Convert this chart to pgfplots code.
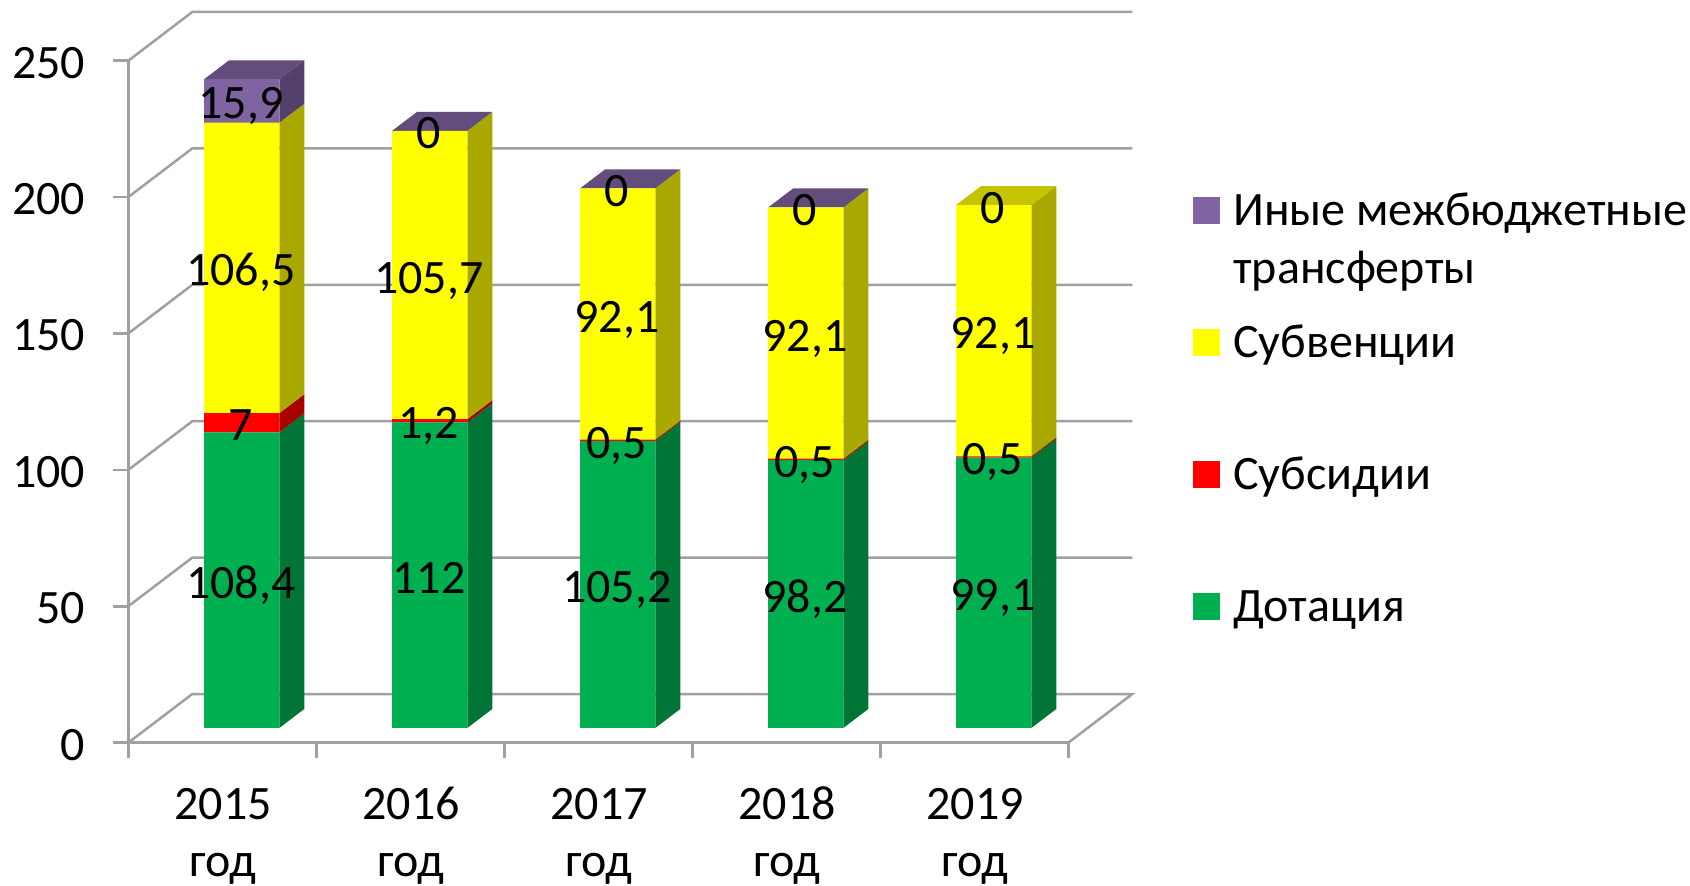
\documentclass[border=0pt]{standalone}
\usepackage{fontspec}
\setmainfont{Carlito}
\usepackage{pgfplots}
\usepackage{pgfplotstable}
\pgfplotsset{compat=1.18}
\definecolor{gridc}{HTML}{A0A0A0}
\definecolor{gf}{HTML}{00B050}\definecolor{gs}{HTML}{007535}
\definecolor{rf}{HTML}{FF0000}\definecolor{rs}{HTML}{A80000}
\definecolor{yf}{HTML}{FFFF00}\definecolor{ys}{HTML}{A8A800}\definecolor{yt}{HTML}{C4C400}
\definecolor{pf}{HTML}{8064A2}\definecolor{ps}{HTML}{54416B}\definecolor{pt}{HTML}{624D7C}
\newcommand{\lf}{\fontsize{48}{60}\selectfont}
\newcommand{\yr}[1]{\rule{0pt}{36pt}#1\\[-3pt]\rule{0pt}{36pt}год}
\pgfplotstableread{
x dot sub subv other
0 108.4 7   106.5 15.9
1 112   1.2 105.7 0
2 105.2 0.5 92.1  0
3 98.2  0.5 92.1  0
4 99.1  0.5 92.1  0
}\stacktable
\pgfplotstableread{
x y label
0 54.2 108,4
0 111.9 7
0 168.65 106,5
0 229.85 15,9
1 56 112
1 112.6 1,2
1 166.05 105,7
1 218.9 0
2 52.6 105,2
2 105.45 0,5
2 151.75 92,1
2 197.8 0
3 49.1 98,2
3 98.45 0,5
3 144.75 92,1
3 190.8 0
4 49.55 99,1
4 99.35 0,5
4 145.65 92,1
4 191.7 0
}\labeltable
\pgfplotsset{
  common/.style={scale only axis,width=940pt,height=682pt,at={(128.3pt,143.3pt)},anchor=south west,clip=false},
  bars/.style={common,hide axis,xmin=-0.603,xmax=4.397,ymin=-5.39,ymax=244.61},
}
\newcommand{\face}[2]{\addplot[fill=#1,draw=none,forget plot] coordinates {#2} -- cycle;}
\newcommand{\gl}[1]{\addplot[gridc,line width=2.5pt,forget plot] coordinates {#1};}
\begin{document}
\begin{tikzpicture}
\path[use as bounding box] (0,0) rectangle (1690pt,886pt);
% walls
\begin{axis}[common,xmin=0,xmax=5,ymin=0,ymax=250,
  axis x line=bottom,axis y line=left,
  axis line style={gridc,line width=2.5pt,-},
  every tick/.style={gridc,line width=2.5pt},
  tick align=outside,major tick length=15pt,minor tick length=15pt,
  ytick={0,50,100,150,200,250},
  xtick={0.5,1.5,2.5,3.5,4.5},
  xticklabels={{\yr{2015}},{\yr{2016}},{\yr{2017}},{\yr{2018}},{\yr{2019}}},
  minor xtick={0,1,2,3,4,5},
  major x tick style={draw=none},
  xticklabel style={align=center,font=\lf,inner sep=0pt,yshift=-26pt,xshift=1pt,text=black},
  yticklabel style={font=\lf,inner sep=0pt,xshift=-28pt,yshift=-2pt,text=black},
  /pgf/number format/assume math mode=true,
]
\gl{(0,0)(0.3404,17.85)(5.3404,17.85)(5,0)}
\gl{(0,50)(0.3404,67.85)(5.3404,67.85)}
\gl{(0,100)(0.3404,117.85)(5.3404,117.85)}
\gl{(0,150)(0.3404,167.85)(5.3404,167.85)}
\gl{(0,200)(0.3404,217.85)(5.3404,217.85)}
\gl{(0,250)(0.3404,267.85)(5.3404,267.85)}
\end{axis}
% side and top faces
\begin{axis}[bars]
\face{gs}{(0.2,0)(0.333,6.96)(0.333,115.36)(0.2,108.4)}
\face{rs}{(0.2,108.4)(0.333,115.36)(0.333,122.36)(0.2,115.4)}
\face{ys}{(0.2,115.4)(0.333,122.36)(0.333,228.86)(0.2,221.9)}
\face{ps}{(0.2,221.9)(0.333,228.86)(0.333,244.76)(0.2,237.8)}
\face{pt}{(-0.2,237.8)(-0.067,244.76)(0.333,244.76)(0.2,237.8)}
\face{gs}{(1.2,0)(1.333,6.96)(1.333,118.96)(1.2,112)}
\face{rs}{(1.2,112)(1.333,118.96)(1.333,120.16)(1.2,113.2)}
\face{ys}{(1.2,113.2)(1.333,120.16)(1.333,225.86)(1.2,218.9)}
\face{pt}{(0.8,218.9)(0.933,225.86)(1.333,225.86)(1.2,218.9)}
\face{gs}{(2.2,0)(2.333,6.96)(2.333,112.16)(2.2,105.2)}
\face{rs}{(2.2,105.2)(2.333,112.16)(2.333,112.66)(2.2,105.7)}
\face{ys}{(2.2,105.7)(2.333,112.66)(2.333,204.76)(2.2,197.8)}
\face{pt}{(1.8,197.8)(1.933,204.76)(2.333,204.76)(2.2,197.8)}
\face{gs}{(3.2,0)(3.333,6.96)(3.333,105.16)(3.2,98.2)}
\face{rs}{(3.2,98.2)(3.333,105.16)(3.333,105.66)(3.2,98.7)}
\face{ys}{(3.2,98.7)(3.333,105.66)(3.333,197.76)(3.2,190.8)}
\face{pt}{(2.8,190.8)(2.933,197.76)(3.333,197.76)(3.2,190.8)}
\face{gs}{(4.2,0)(4.333,6.96)(4.333,106.06)(4.2,99.1)}
\face{rs}{(4.2,99.1)(4.333,106.06)(4.333,106.56)(4.2,99.6)}
\face{ys}{(4.2,99.6)(4.333,106.56)(4.333,198.66)(4.2,191.7)}
\face{yt}{(3.8,191.7)(3.933,198.66)(4.333,198.66)(4.2,191.7)}
\end{axis}
% front faces and legend
\begin{axis}[bars,ybar stacked,bar width=75.2pt,
  reverse legend,
  legend style={at={(1.1327,0.8258)},anchor=north west,draw=none,fill=none,inner sep=0pt,
    row sep=0pt,font=\lf,nodes={inner sep=0pt,anchor=base west,text height=46pt,text depth=86pt}},
  legend image code/.code={\fill[#1] (0pt,2pt) rectangle (27pt,29pt);\path[fill=none,draw=none] (0pt,0pt) rectangle (40pt,0pt);},
]
\addplot[fill=gf,draw=none] table[x=x,y=dot] {\stacktable};
\addlegendentry{Дотация}
\addplot[fill=rf,draw=none] table[x=x,y=sub] {\stacktable};
\addlegendentry{Субсидии}
\addplot[fill=yf,draw=none] table[x=x,y=subv] {\stacktable};
\addlegendentry{Субвенции}
\addplot[fill=pf,draw=none] table[x=x,y=other] {\stacktable};
\addlegendentry{\begin{tabular}[t]{@{}l@{}}Иные межбюджетные\\[-2pt]трансферты\end{tabular}}
\end{axis}
% data labels
\begin{axis}[bars]
\addplot[draw=none,mark=none,nodes near coords,point meta=explicit symbolic,
  every node near coord/.style={anchor=center,font=\lf,text=black,inner sep=0pt,
    text height=30pt,text depth=0pt,yshift=-3pt,xshift=-0.7pt}]
  table[x=x,y=y,meta=label] {\labeltable};
\end{axis}
\end{tikzpicture}
\end{document}
